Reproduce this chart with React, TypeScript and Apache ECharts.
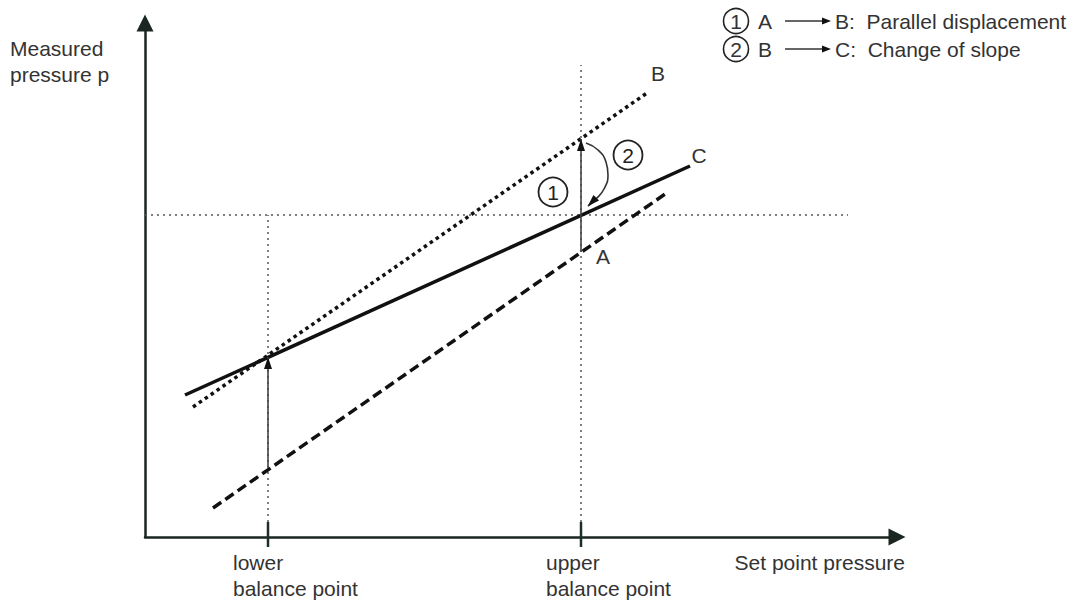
import React, { useEffect, useRef } from "react";
import * as echarts from "echarts";

// Diagram units (arbitrary scale of the set point / measured pressure plane)
const X_MAX = 752;
const Y_MAX = 514;

const balanceX = [123, 436];
const balanceLabels = [["lower", "balance point"], ["upper", "balance point"]];
const lowerDottedTop = 322;
const upperDottedTop = 472;
const setLevel = 322;
const setLevelEnd = 703;

const lineA = [[68, 29], [523, 345]];
const lineB = [[48, 130], [502, 444]];
const lineC = [[40, 142], [545, 371]];

const arrowLower = [[123, 70], [123, 180]];
const arrowUpper = [[436, 285], [436, 398]];
const arrowCurve = [[441, 394], [453, 387], [461, 375], [463, 362], [459, 348], [451, 338], [443, 331]];

const circleNums = ["1", "2"];
const circlePos = [[408, 345], [483, 382]];

const lineNames = ["A", "B", "C"];
const lineLabelPos = [[458, 281], [513, 464], [554, 382]];

const legendRows = [
  { num: "1", from: "A", to: "B:  Parallel displacement" },
  { num: "2", from: "B", to: "C:  Change of slope" },
];

const FONT = '"Liberation Sans", Arial, Helvetica, sans-serif';
const TXT = "#333";
const INK = "#111";

export default function App() {
  const ref = useRef<HTMLDivElement>(null);
  useEffect(() => {
    const chart = echarts.init(ref.current!, null, { renderer: "svg" });

    const seg = (data: any, type: any, width: number, color: string) => ({
      type: "line",
      data,
      symbol: "none",
      clip: false,
      silent: true,
      lineStyle: { type, width, color, cap: "butt" },
      z: 3,
    });

    const arrow = (pts: number[][]) => ({
      type: "line",
      clip: false,
      silent: true,
      data: pts.map((p, i) =>
        i === pts.length - 1
          ? { value: p, symbol: "triangle", symbolSize: [8, 12], symbolOffset: [0, 6] }
          : { value: p, symbol: "none" }
      ),
      lineStyle: { width: 1.6, color: "#444" },
      itemStyle: { color: INK },
      z: 5,
    });

    const series: any[] = [];
    balanceX.forEach((x) => series.push(seg([[x, 15], [x, -10]], "solid", 2.5, "#1d2d28")));
    series.push(seg([[balanceX[0], 15], [balanceX[0], lowerDottedTop]], [2, 4], 1.5, "#555"));
    series.push(seg([[balanceX[1], 15], [balanceX[1], upperDottedTop]], [2, 4], 1.5, "#555"));
    series.push(seg([[0, setLevel], [setLevelEnd, setLevel]], [2, 4], 1.5, "#555"));
    series.push(seg(lineA, [10, 5], 3.5, INK));
    series.push(seg(lineB, [3.5, 3.7], 3.5, INK));
    series.push(seg(lineC, "solid", 3.5, INK));
    series.push(arrow(arrowLower));
    series.push(arrow(arrowUpper));
    series.push({
      type: "line",
      clip: false,
      silent: true,
      smooth: 0.5,
      data: arrowCurve.map((p, i) =>
        i === arrowCurve.length - 1
          ? { value: p, symbol: "triangle", symbolSize: [8, 12], symbolRotate: 135, symbolOffset: [4, -4] }
          : { value: p, symbol: "none" }
      ),
      lineStyle: { width: 1.6, color: "#333" },
      itemStyle: { color: INK },
      z: 5,
    });
    series.push({
      type: "scatter",
      clip: false,
      silent: true,
      symbol: "circle",
      symbolSize: 29,
      data: circlePos.map((p, i) => ({ value: p, name: circleNums[i] })),
      itemStyle: { color: "#fff", borderColor: "#222", borderWidth: 1.8, opacity: 1 },
      label: { show: true, position: "inside", formatter: "{b}", fontFamily: FONT, fontSize: 21, color: "#222" },
      z: 6,
    });
    series.push({
      type: "scatter",
      clip: false,
      silent: true,
      symbolSize: 0,
      data: lineLabelPos.map((p, i) => ({ value: p, name: lineNames[i] })),
      itemStyle: { opacity: 1 },
      label: { show: true, position: "inside", formatter: "{b}", fontFamily: FONT, fontSize: 21, color: TXT },
      z: 6,
    });

    const graphic: any[] = [];
    const txt = (text: string, x: number, y: number, align = "left") => ({
      type: "text",
      x,
      y,
      silent: true,
      style: { text, font: `21px ${FONT}`, fill: TXT, textAlign: align, textVerticalAlign: "middle" },
    });
    graphic.push(txt("Measured", 10, 48));
    graphic.push(txt("pressure p", 10, 74));
    graphic.push(txt("Set point pressure", 905, 562, "right"));
    balanceX.forEach((x, i) => {
      const left = 145 + x - 35;
      graphic.push(txt(balanceLabels[i][0], left, 562));
      graphic.push(txt(balanceLabels[i][1], left, 588));
    });
    legendRows.forEach((r, i) => {
      const cy = 21 + i * 28;
      graphic.push({ type: "circle", shape: { cx: 736, cy, r: 12.5 }, style: { fill: "#fff", stroke: "#222", lineWidth: 1.6 } });
      graphic.push(txt(r.num, 736, cy, "center"));
      graphic.push(txt(r.from, 758, cy));
      graphic.push({ type: "line", shape: { x1: 785, y1: cy, x2: 824, y2: cy }, style: { stroke: "#333", lineWidth: 1.5 } });
      graphic.push({ type: "polygon", shape: { points: [[822, cy - 3.5], [831, cy], [822, cy + 3.5]] }, style: { fill: INK } });
      graphic.push(txt(r.to, 835, cy));
    });

    chart.setOption({
      animation: false,
      grid: { left: 145, right: 185, top: 23, bottom: 64 },
      xAxis: {
        type: "value",
        min: 0,
        max: X_MAX,
        axisLine: { show: true, onZero: false, symbol: ["none", "triangle"], symbolSize: [17, 17], lineStyle: { color: "#1b2621", width: 2.5 } },
        axisTick: { show: false },
        axisLabel: { show: false },
        splitLine: { show: false },
      },
      yAxis: {
        type: "value",
        min: 0,
        max: Y_MAX,
        axisLine: { show: true, onZero: false, symbol: ["none", "triangle"], symbolSize: [17, 17], lineStyle: { color: "#1b2621", width: 2.5 } },
        axisTick: { show: false },
        axisLabel: { show: false },
        splitLine: { show: false },
      },
      series,
      graphic,
    });
    return () => chart.dispose();
  }, []);
  return <div ref={ref} style={{ position: "fixed", left: 0, top: 0, width: 1082, height: 601, background: "#fff" }} />;
}
